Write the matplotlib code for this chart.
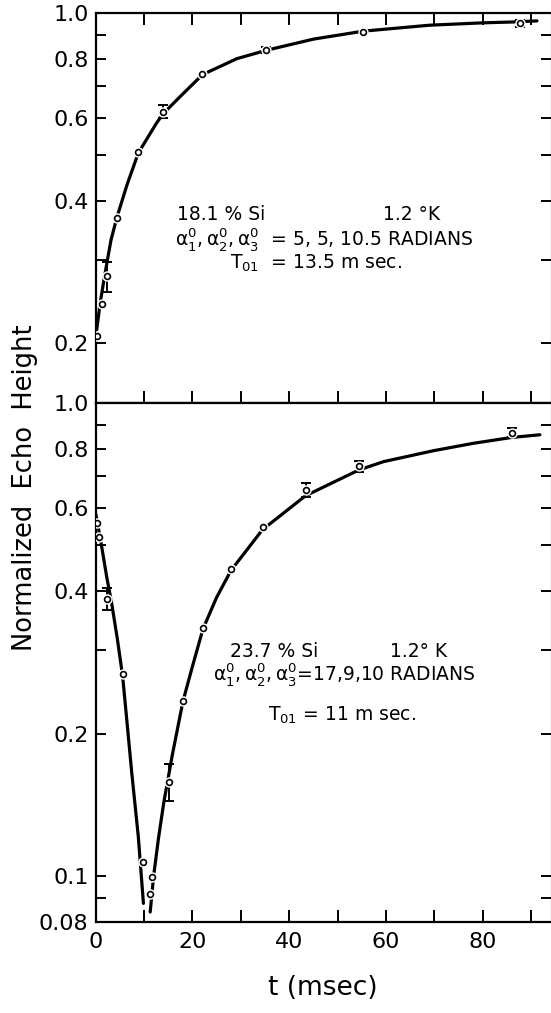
import numpy as np
import matplotlib
matplotlib.use("Agg")
import matplotlib.pyplot as plt
from matplotlib.ticker import FixedLocator, FixedFormatter, NullLocator

plt.rcParams['font.family'] = ['DejaVu Sans']
plt.rcParams['mathtext.default'] = 'regular'

nan = np.nan

# ---- upper panel: 18.1 % Si ----
top_t = [0.25, 1.28, 2.3, 4.4, 8.85, 14.0, 22.1, 35.2, 55.3, 87.6]
top_h = [0.207, 0.241, 0.277, 0.368, 0.508, 0.618, 0.743, 0.835, 0.910, 0.951]
top_lo = [nan, nan, 0.256, nan, nan, 0.598, nan, 0.822, nan, 0.935]
top_hi = [nan, nan, 0.297, nan, nan, 0.639, nan, 0.848, nan, 0.966]

top_fit_t = [0.25, 0.9, 1.6, 2.3, 3.2, 4.4, 6.5, 8.85, 12.6, 14.0, 17.5, 22.1,
             29.2, 35.2, 45.0, 55.3, 69.0, 80.0, 86.3, 91.2]
top_fit_h = [0.213, 0.240, 0.266, 0.293, 0.330, 0.368, 0.432, 0.505, 0.584, 0.612,
             0.665, 0.740, 0.800, 0.833, 0.880, 0.915, 0.942, 0.953, 0.957, 0.962]

# ---- lower panel: 23.7 % Si ----
bot_t = [0.25, 0.75, 2.4, 5.7, 9.75, 11.3, 11.76, 15.1, 18.06, 22.2, 28.0, 34.5,
         43.4, 54.4, 86.0]
bot_h = [0.557, 0.521, 0.386, 0.268, 0.107, 0.0915, 0.0998, 0.158, 0.235, 0.335,
         0.445, 0.546, 0.655, 0.736, 0.865]
bot_lo = [nan, nan, 0.366, nan, nan, nan, nan, 0.144, nan, nan, nan, nan,
          0.634, 0.716, 0.846]
bot_hi = [nan, nan, 0.406, nan, nan, nan, nan, 0.173, nan, nan, nan, nan,
          0.677, 0.754, 0.884]

# fitted curve, falling part and rising part
bot_fall_t = [0.0, 0.25, 1.28, 2.3, 3.35, 4.5, 5.6, 6.5, 7.5, 8.85, 9.9]
bot_fall_h = [0.585, 0.570, 0.497, 0.430, 0.377, 0.318, 0.265, 0.212, 0.165, 0.121, 0.0876]
bot_rise_t = [11.3, 12.0, 13.0, 14.1, 15.85, 18.06, 20.0, 22.2, 25.0, 28.0, 34.5,
              43.4, 54.4, 59.5, 69.8, 78.0, 86.0, 91.8]
bot_rise_h = [0.084, 0.100, 0.120, 0.143, 0.180, 0.234, 0.277, 0.333, 0.388, 0.443,
              0.540, 0.637, 0.722, 0.752, 0.793, 0.822, 0.846, 0.857]

top_yticks = [0.2, 0.3, 0.4, 0.5, 0.6, 0.7, 0.8, 0.9, 1.0]
top_ylabels = ["0.2", "", "0.4", "", "0.6", "", "0.8", "", "1.0"]
bot_yticks = [0.08, 0.09, 0.1, 0.2, 0.3, 0.4, 0.5, 0.6, 0.7, 0.8, 0.9, 1.0]
bot_ylabels = ["0.08", "", "0.1", "0.2", "", "0.4", "", "0.6", "", "0.8", "", "1.0"]
xticks = [0, 10, 20, 30, 40, 50, 60, 70, 80, 90]
xlabels = ["0", "", "20", "", "40", "", "60", "", "80", ""]

top_text = ["18.1 % Si", "1.2 °K",
            r"$\alpha_1^0,\alpha_2^0,\alpha_3^0$  = 5, 5, 10.5 RADIANS",
            r"T$_{01}$  = 13.5 m sec."]
bot_text = ["23.7 % Si", "1.2° K",
            r"$\alpha_1^0,\alpha_2^0,\alpha_3^0$=17,9,10 RADIANS",
            r"T$_{01}$ = 11 m sec."]

L = 95.5 / 551
fig = plt.figure(figsize=(5.51, 10.13), dpi=100)
ax1 = fig.add_axes([L, 0.6022, 1 - L, 0.385])
ax2 = fig.add_axes([L, 0.0898, 1 - L, 0.5123])


def draw_points(ax, t, h, lo, hi):
    t = np.array(t); h = np.array(h); lo = np.array(lo); hi = np.array(hi)
    m = ~np.isnan(lo)
    ax.errorbar(t[m], h[m], yerr=[h[m] - lo[m], hi[m] - h[m]], fmt='none',
                ecolor='black', elinewidth=1.4, capsize=3.5, capthick=1.4, zorder=4)
    ax.plot(t, h, 'o', ms=6.5, mfc='white', mec='white', zorder=5)
    ax.plot(t, h, 'o', ms=4.2, mfc='white', mec='black', mew=1.2, zorder=6)


def style(ax, yticks, ylabels, ylow):
    ax.set_yscale('log')
    ax.set_xlim(0, 94.1)
    ax.set_ylim(ylow, 1.0)
    ax.yaxis.set_major_locator(FixedLocator(yticks))
    ax.yaxis.set_major_formatter(FixedFormatter(ylabels))
    ax.yaxis.set_minor_locator(NullLocator())
    ax.xaxis.set_major_locator(FixedLocator(xticks))
    ax.xaxis.set_minor_locator(NullLocator())
    for s in ax.spines.values():
        s.set_linewidth(1.6)
    ax.spines['right'].set_linewidth(0.8)
    ax.tick_params(axis='y', which='major', direction='in', length=7.5, width=1.4,
                   left=True, right=True, labelsize=16, pad=5)
    ax.tick_params(axis='x', which='major', direction='in', length=8.5, width=1.4,
                   labelsize=16, pad=7)


# upper
ax1.plot(top_fit_t, top_fit_h, color='black', lw=2.3, solid_capstyle='round', zorder=3)
draw_points(ax1, top_t, top_h, top_lo, top_hi)
style(ax1, top_yticks, top_ylabels, 0.149)
ax1.xaxis.set_major_formatter(FixedFormatter([""] * len(xticks)))
ax1.tick_params(axis='x', top=True, bottom=True)

# lower
ax2.plot(bot_fall_t, bot_fall_h, color='black', lw=2.3, solid_capstyle='round', zorder=3)
ax2.plot(bot_rise_t, bot_rise_h, color='black', lw=2.3, solid_capstyle='round', zorder=3)
draw_points(ax2, bot_t, bot_h, bot_lo, bot_hi)
style(ax2, bot_yticks, bot_ylabels, 0.08)
ax2.xaxis.set_major_formatter(FixedFormatter(xlabels))
ax2.tick_params(axis='x', top=False, bottom=True)
for tk in ax2.yaxis.get_major_ticks():
    if abs(tk.get_loc() - 0.1) < 1e-6:
        tk.tick1line.set_markersize(20)
        tk.tick2line.set_markersize(17)
ax2.set_xlabel("t (msec)", fontsize=19, labelpad=17)

fig.text(0.045, 0.519, "Normalized  Echo  Height", rotation=90, fontsize=18.5,
         ha='center', va='center')

fs = 13.5
ax1.text(0.179, 0.469, top_text[0], transform=ax1.transAxes, fontsize=fs, va='baseline')
ax1.text(0.631, 0.469, top_text[1], transform=ax1.transAxes, fontsize=fs, va='baseline')
ax1.text(0.1745, 0.403, top_text[2], transform=ax1.transAxes, fontsize=fs, va='baseline')
ax1.text(0.295, 0.344, top_text[3], transform=ax1.transAxes, fontsize=fs, va='baseline')

ax2.text(0.295, 0.511, bot_text[0], transform=ax2.transAxes, fontsize=fs, va='baseline')
ax2.text(0.6465, 0.511, bot_text[1], transform=ax2.transAxes, fontsize=fs, va='baseline')
ax2.text(0.258, 0.466, bot_text[2], transform=ax2.transAxes, fontsize=fs, va='baseline')
ax2.text(0.379, 0.387, bot_text[3], transform=ax2.transAxes, fontsize=fs, va='baseline')

fig.savefig("out.png", dpi=100)
